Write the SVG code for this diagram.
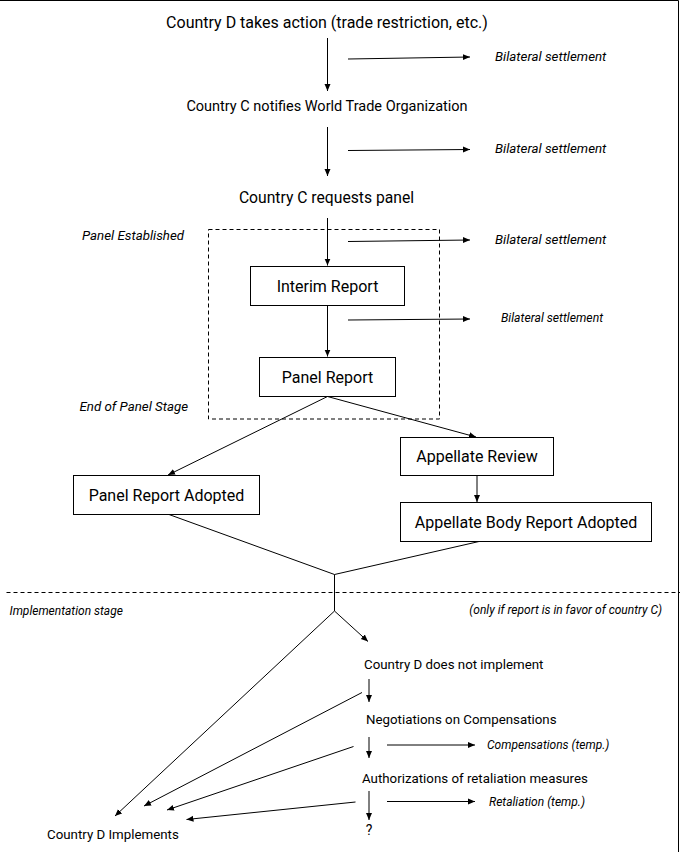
<svg xmlns="http://www.w3.org/2000/svg" width="680" height="852" viewBox="0 0 680 852">
<style>
.t{font-family:Roboto,"Liberation Sans",sans-serif;fill:#000;dominant-baseline:central}
.m{font-size:16px;text-anchor:middle}
.s{font-size:13.3px}
.i{font-style:italic;font-size:13.3px}
.ln{stroke:#000;stroke-width:1;fill:none}
.box{fill:#fff;stroke:#000;stroke-width:1}
.dash{stroke:#000;stroke-width:1;stroke-dasharray:4 3;fill:none}
</style>
<defs>
<marker id="ah" markerWidth="8" markerHeight="8" refX="7" refY="4" orient="auto" markerUnits="userSpaceOnUse"><path d="M0,1 L7,4 L0,7 z" fill="#000"/></marker>
</defs>
<rect width="680" height="852" fill="#fff"/>
<path class="ln" d="M0,0.5 H678.5 V852"/>
<g id="stage-frames">
<rect class="dash" x="208.5" y="229.5" width="231" height="189.5"/>
<path class="dash" d="M6.5,592.5 H680"/>
</g>
<g id="connectors">
<path class="ln" d="M327.5,38 V91" marker-end="url(#ah)"/>
<path class="ln" d="M348,59 L470,57" marker-end="url(#ah)"/>
<path class="ln" d="M327.5,127 V176" marker-end="url(#ah)"/>
<path class="ln" d="M348,150.5 L470,149.5" marker-end="url(#ah)"/>
<path class="ln" d="M327.5,218 V265.5" marker-end="url(#ah)"/>
<path class="ln" d="M348,241.5 L470,240" marker-end="url(#ah)"/>
<path class="ln" d="M327.5,306 V356.5" marker-end="url(#ah)"/>
<path class="ln" d="M348,320 L470,319" marker-end="url(#ah)"/>
<path class="ln" d="M327.5,396.5 L168,475" marker-end="url(#ah)"/>
<path class="ln" d="M327.5,396.5 L476,437" marker-end="url(#ah)"/>
<path class="ln" d="M477,475.5 V502" marker-end="url(#ah)"/>
<path class="ln" d="M169,514.5 L334.5,574.5 L479,541.5"/>
<path class="ln" d="M334.5,574.5 V611"/>
<path class="ln" d="M334.5,611 L115,816" marker-end="url(#ah)"/>
<path class="ln" d="M334.5,611 L368,641.5" marker-end="url(#ah)"/>
<path class="ln" d="M369,679 V702" marker-end="url(#ah)"/>
<path class="ln" d="M362,692.5 L144,806" marker-end="url(#ah)"/>
<path class="ln" d="M369,737 V758" marker-end="url(#ah)"/>
<path class="ln" d="M353.5,746.5 L167,810" marker-end="url(#ah)"/>
<path class="ln" d="M387,745 H475" marker-end="url(#ah)"/>
<path class="ln" d="M369,791 V820" marker-end="url(#ah)"/>
<path class="ln" d="M355.5,802 L186.5,819.5" marker-end="url(#ah)"/>
<path class="ln" d="M387,801.5 H475" marker-end="url(#ah)"/>
</g>
<g id="n-action"><text class="t m" x="327" y="22">Country D takes action (trade restriction, etc.)</text></g>
<g id="n-notify"><text class="t m" x="327" y="106.5" style="font-size:14.5px">Country C notifies World Trade Organization</text></g>
<g id="n-request"><text class="t m" x="326.5" y="197" style="font-size:15.7px">Country C requests panel</text></g>
<g id="l-bs1"><text class="t i" x="495" y="56.5">Bilateral settlement</text></g>
<g id="l-bs2"><text class="t i" x="495" y="148">Bilateral settlement</text></g>
<g id="l-bs3"><text class="t i" x="495" y="239.5">Bilateral settlement</text></g>
<g id="l-bs4"><text class="t i" x="501" y="318" style="font-size:12.2px">Bilateral settlement</text></g>
<g id="l-panel-est"><text class="t i" x="82" y="235">Panel Established</text></g>
<g id="l-panel-end"><text class="t i" x="79.5" y="406">End of Panel Stage</text></g>
<g id="n-interim"><rect class="box" x="250.5" y="266.5" width="154" height="39"/><text class="t m" x="327.5" y="286">Interim Report</text></g>
<g id="n-panel-report"><rect class="box" x="259.5" y="357.5" width="136" height="39"/><text class="t m" x="327.5" y="377">Panel Report</text></g>
<g id="n-appellate"><rect class="box" x="400.5" y="437.5" width="153" height="38"/><text class="t m" x="477" y="456.5">Appellate Review</text></g>
<g id="n-abra"><rect class="box" x="400.5" y="502.5" width="251" height="39"/><text class="t m" x="526" y="522">Appellate Body Report Adopted</text></g>
<g id="n-pra"><rect class="box" x="73.5" y="475.5" width="186" height="39"/><text class="t m" x="166.5" y="495.5">Panel Report Adopted</text></g>
<g id="l-impl"><text class="t i" x="9.5" y="611" style="font-size:12px">Implementation stage</text></g>
<g id="l-only"><text class="t i" x="662" y="609.5" style="font-size:12px;text-anchor:end">(only if report is in favor of country C)</text></g>
<g id="n-not-impl"><text class="t s" x="364" y="664">Country D does not implement</text></g>
<g id="n-negot"><text class="t s" x="366" y="719.5">Negotiations on Compensations</text></g>
<g id="n-auth"><text class="t s" x="362" y="778">Authorizations of retaliation measures</text></g>
<g id="l-comp"><text class="t i" x="487" y="745" style="font-size:12px">Compensations (temp.)</text></g>
<g id="l-ret"><text class="t i" x="489" y="801.5" style="font-size:12px">Retaliation (temp.)</text></g>
<g id="n-q"><text class="t" x="369" y="830" style="font-size:14px;text-anchor:middle">?</text></g>
<g id="n-impl"><text class="t s" x="47" y="834">Country D Implements</text></g>
</svg>
